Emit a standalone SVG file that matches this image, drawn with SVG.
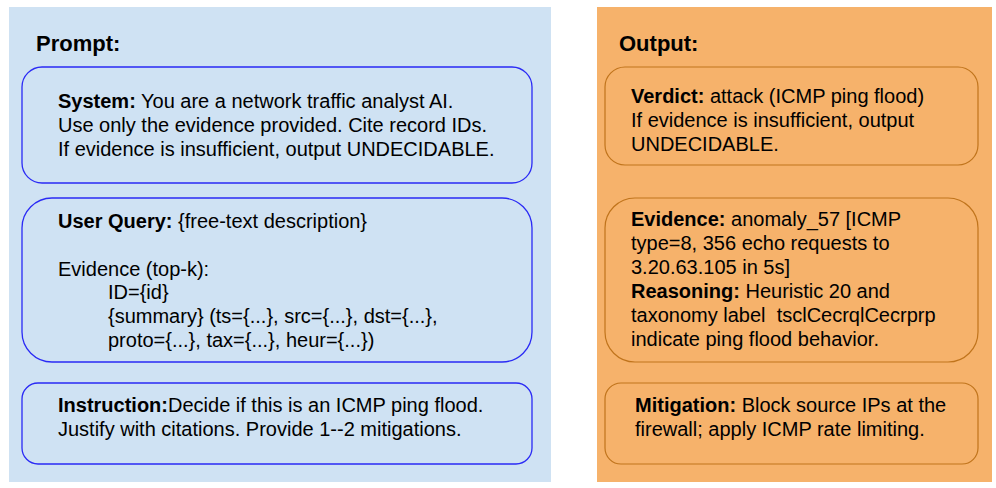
<svg xmlns="http://www.w3.org/2000/svg" width="996" height="488" viewBox="0 0 996 488">
<style>
text{font-family:"Liberation Sans",Arial,sans-serif;fill:#000;}
.t{font-size:20px;}
.h{font-size:22px;font-weight:bold;}
.b{font-weight:bold;}
.bb{fill:none;stroke:#2a2af5;stroke-width:1.3;}
.ob{fill:none;stroke:#c0741c;stroke-width:1.2;}
</style>
<rect width="996" height="488" fill="#ffffff"/>
<g id="prompt-panel">
<rect x="9" y="7" width="542" height="475" fill="#cfe2f3"/>
<text class="h" x="36" y="51">Prompt:</text>
</g>
<g id="output-panel">
<rect x="597" y="7" width="395" height="475" fill="#f6b26b"/>
<text class="h" x="619" y="51">Output:</text>
</g>
<g id="system">
<rect class="bb" x="22" y="67" width="510" height="116" rx="20"/>
<text class="t" x="58" y="108"><tspan class="b">System:</tspan> You are a network traffic analyst AI.</text>
<text class="t" x="58" y="132">Use only the evidence provided. Cite record IDs.</text>
<text class="t" x="58" y="156">If evidence is insufficient, output UNDECIDABLE.</text>
</g>
<g id="user-query">
<rect class="bb" x="22" y="198" width="510" height="164" rx="30"/>
<text class="t" x="58" y="228"><tspan class="b">User Query:</tspan> {free-text description}</text>
<text class="t" x="58" y="276">Evidence (top-k):</text>
<text class="t" x="108" y="299">ID={id}</text>
<text class="t" x="108" y="323">{summary} (ts={...}, src={...}, dst={...},</text>
<text class="t" x="108" y="347">proto={...}, tax={...}, heur={...})</text>
</g>
<g id="instruction">
<rect class="bb" x="22" y="383" width="510" height="81" rx="16"/>
<text class="t" x="58" y="412"><tspan class="b">Instruction:</tspan>Decide if this is an ICMP ping flood.</text>
<text class="t" x="58" y="436">Justify with citations. Provide 1--2 mitigations.</text>
</g>
<g id="verdict">
<rect class="ob" x="605" y="67" width="373" height="98" rx="20"/>
<text class="t" x="631" y="103"><tspan class="b">Verdict:</tspan> attack (ICMP ping flood)</text>
<text class="t" x="631" y="127">If evidence is insufficient, output</text>
<text class="t" x="631" y="151">UNDECIDABLE.</text>
</g>
<g id="evidence">
<rect class="ob" x="605" y="198" width="373" height="164" rx="30"/>
<text class="t" x="631" y="226"><tspan class="b">Evidence:</tspan> anomaly_57 [ICMP</text>
<text class="t" x="631" y="250">type=8, 356 echo requests to</text>
<text class="t" x="631" y="274">3.20.63.105 in 5s]</text>
<text class="t" x="631" y="298"><tspan class="b">Reasoning:</tspan> Heuristic 20 and</text>
<text class="t" x="631" y="322" xml:space="preserve">taxonomy label  tsclCecrqlCecrprp</text>
<text class="t" x="631" y="346">indicate ping flood behavior.</text>
</g>
<g id="mitigation">
<rect class="ob" x="605" y="383" width="373" height="81" rx="16"/>
<text class="t" x="635" y="412"><tspan class="b">Mitigation:</tspan> Block source IPs at the</text>
<text class="t" x="635" y="436">firewall; apply ICMP rate limiting.</text>
</g>
<g id="connectors"/>
</svg>
